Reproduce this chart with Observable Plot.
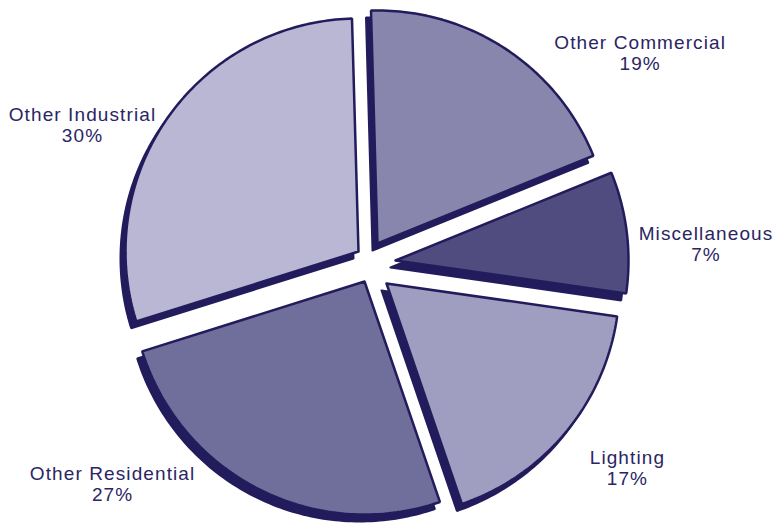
<!DOCTYPE html>
<html><head><meta charset="utf-8">
<script src="https://cdn.jsdelivr.net/npm/d3@7"></script>
<script src="https://cdn.jsdelivr.net/npm/@observablehq/plot@0.6"></script>
<style>body{margin:0;background:#fff}</style>
</head><body><div id="chart"></div>
<script>
const categories = ["Other Commercial", "Miscellaneous", "Lighting", "Other Residential", "Other Industrial"];
// labelled percentages
const values = [19, 7, 17, 27, 30];
// slice shares as drawn in the picture
const shares = [19.3, 8.4, 17.5, 25.4, 29.4];
const colors = ["#8886ad", "#514c80", "#9f9dc0", "#706e9b", "#b9b7d3"];

// layout
const W = 776, H = 525;
const cx = 370, cy = 262, r = 233;
const startDeg = -1.6;
const offX = [7, 25, 16, -6, -12];
const offY = [-19, -2, 21, 19, -11];
const labelAngle = [52.1, 86.8, 128.6, 229.4, 295.6];
const labelDist = [341.7, 336, 328.7, 339.7, 319.4];
const ink = "#231c5c";

const data = categories.map((c, i) => ({name: c, value: values[i], share: shares[i], i}));
const pie = d3.pie().sort(null).value(d => d.share)
  .startAngle(startDeg * Math.PI / 180).endAngle((startDeg + 360) * Math.PI / 180);
const arcs = pie(data);

const pts = [];
arcs.forEach(a => {
  const i = a.data.i;
  const ox = cx + offX[i], oy = cy + offY[i];
  pts.push({name: a.data.name, x: ox, y: oy});
  const n = Math.max(8, Math.ceil((a.endAngle - a.startAngle) * 180 / Math.PI));
  for (let k = 0; k <= n; k++) {
    const t = a.startAngle + (a.endAngle - a.startAngle) * k / n;
    pts.push({name: a.data.name, x: ox + r * Math.sin(t), y: oy - r * Math.cos(t)});
  }
  pts.push({name: a.data.name, x: ox, y: oy});
});

const labels = data.map((d, i) => {
  const t = labelAngle[i] * Math.PI / 180;
  return {text: d.name + "\n" + d.value + "%", x: cx + labelDist[i] * Math.sin(t), y: cy - labelDist[i] * Math.cos(t)};
});

const chart = Plot.plot({
  width: W, height: H,
  margin: 0,
  x: {domain: [0, W], range: [0, W], axis: null},
  y: {domain: [0, H], range: [0, H], axis: null},
  color: {domain: categories, range: colors},
  style: {fontFamily: "'Liberation Sans', Arial, sans-serif", background: "#fff", letterSpacing: "1.1px"},
  marks: [
    Plot.line(pts, {x: "x", y: "y", z: "name", fill: ink, stroke: ink, strokeWidth: 2, dx: -5, dy: 7, curve: "linear", strokeLinejoin: "miter"}),
    Plot.line(pts, {x: "x", y: "y", z: "name", fill: "name", stroke: ink, strokeWidth: 2.5, curve: "linear", strokeLinejoin: "miter"}),
    Plot.text(labels, {x: "x", y: "y", text: "text", fill: "#2b2563", fontSize: 19, lineHeight: 1.1, textAnchor: "middle"})
  ]
});
document.getElementById("chart").appendChild(chart);
</script>
</body></html>
